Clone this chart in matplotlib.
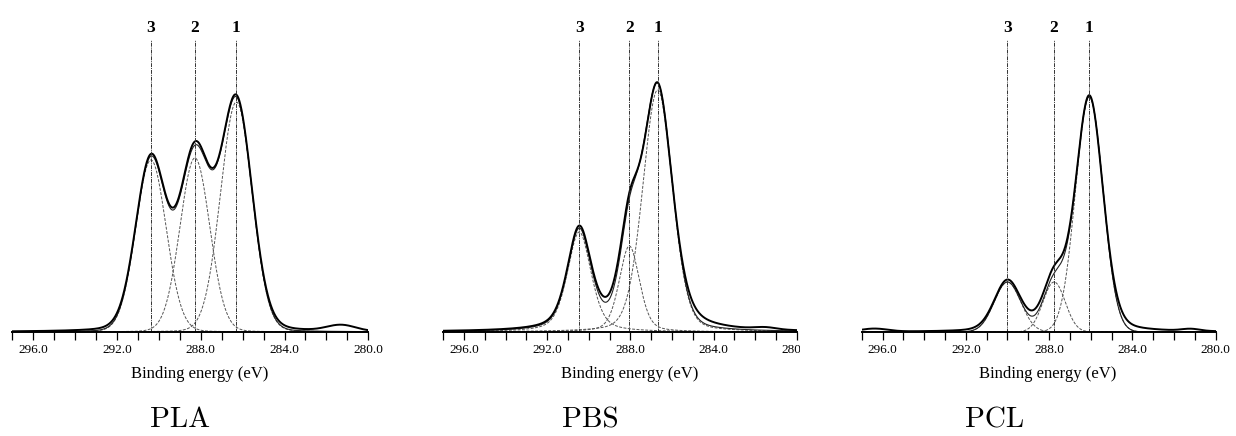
import matplotlib
matplotlib.use("Agg")
import matplotlib.pyplot as plt
import numpy as np
from matplotlib.transforms import Bbox, TransformedBbox

# C1s fits: centre (eV), height, FWHM (eV), Lorentzian fraction
samples = ["PLA", "PBS", "PCL"]

pla_center = [286.30, 288.28, 290.38]
pla_height = [230, 174, 172]
pla_fwhm = [1.78, 1.68, 1.72]
pla_eta = [0.05, 0.05, 0.05]

pbs_center = [286.69, 288.05, 290.46]
pbs_height = [242, 86, 100]
pbs_fwhm = [1.68, 1.15, 1.35]
pbs_eta = [0.20, 0.35, 0.45]

pcl_center = [286.07, 287.76, 290.00]
pcl_height = [235, 50, 50]
pcl_fwhm = [1.55, 1.25, 1.50]
pcl_eta = [0.0, 0.0, 0.0]

# Lorentzian fraction of the measured envelope (a little broader wings than the fit)
meas_eta = [0.12, 0.40, 0.20]

# small extra features in the measured spectra: centre, height, FWHM
pla_extra = [[281.3, 6, 1.6]]
pbs_extra = [[281.5, 2, 1.2]]
pcl_extra = [[296.4, 3, 1.5], [281.2, 2, 1.0]]

peak_labels = ["1", "2", "3"]
tick_values = [296.0, 292.0, 288.0, 284.0, 280.0]

# figure layout (pixels on a 1236 x 436 canvas)
W, H = 1236, 436
axes_px = [(12.3, 356.0), (443.3, 353.4), (861.7, 354.0)]
base_px = 332
top_px = 10
xlabel_x = [200, 630, 1048]
name_x = [180, 590, 995]


def pvoigt(x, c, h, w, eta):
    hw = w / 2.0
    u = (x - c) / hw
    g = np.exp(-np.log(2) * u ** 2)
    lo = 1.0 / (1.0 + u ** 2)
    return h * (eta * lo + (1 - eta) * g)


fits = [
    (pla_center, pla_height, pla_fwhm, pla_eta, pla_extra),
    (pbs_center, pbs_height, pbs_fwhm, pbs_eta, pbs_extra),
    (pcl_center, pcl_height, pcl_fwhm, pcl_eta, pcl_extra),
]

fig = plt.figure(figsize=(W / 100, H / 100), dpi=100)
serif = ["Liberation Serif", "DejaVu Serif"]

x = np.linspace(297, 280, 1200)
ytop = base_px - top_px

for i, (cen, hei, fw, eta, extra) in enumerate(fits):
    left, width = axes_px[i]
    ax = fig.add_axes([left / W, (H - base_px) / H, width / W, ytop / H])

    comps = [pvoigt(x, c, h, w, e) for c, h, w, e in zip(cen, hei, fw, eta)]
    fit_sum = np.sum(comps, axis=0)
    meas = np.sum([pvoigt(x, c, h, w, max(e, meas_eta[i])) for c, h, w, e in zip(cen, hei, fw, eta)],
                  axis=0)
    for c, h, w in extra:
        meas = meas + pvoigt(x, c, h, w, 0.0)

    for comp in comps:
        ax.plot(x, comp, ls=(0, (3, 1.5)), lw=0.7, color="#555555")
    ax.plot(x, fit_sum, lw=0.8, color="#222222")
    ax.plot(x, meas, lw=1.4, color="black")

    vtop = base_px - 40
    for c, lab in zip(cen, peak_labels):
        ax.plot([c, c], [0, vtop], ls=(0, (4, 1, 1, 1)), lw=0.7, color="#333333")
        ax.text(c, base_px - 28, lab, ha="center", va="center",
                fontsize=12.5, fontweight="bold", family=serif)

    ax.set_xlim(297, 280)
    ax.set_ylim(0, ytop)
    for s in ["left", "right", "top"]:
        ax.spines[s].set_visible(False)
    ax.spines["bottom"].set_linewidth(1.4)
    ax.set_yticks([])
    ticks = np.arange(280, 298, 1.0)
    ax.set_xticks(ticks)
    ax.set_xticklabels(["%.1f" % t if t in tick_values else "" for t in ticks],
                       family=serif, fontsize=9.5)
    ax.tick_params(axis="x", direction="out", length=5.5, width=0.9, pad=3)

    fig.text(xlabel_x[i] / W, 1 - 374 / H, "Binding energy (eV)", ha="center", va="center",
             fontsize=12, family=serif)
    fig.text(name_x[i] / W, 1 - 420 / H, samples[i], ha="center", va="center",
             fontsize=21, family=["cmr10", "DejaVu Serif"])

    # the middle panel's last label is cut at the panel edge
    if i == 1:
        clip = TransformedBbox(Bbox([[0, 0], [800 / W, 1]]), fig.transFigure)
        for lab in ax.get_xticklabels():
            lab.set_clip_box(clip)
            lab.set_clip_on(True)

fig.savefig("out.png", dpi=100)
